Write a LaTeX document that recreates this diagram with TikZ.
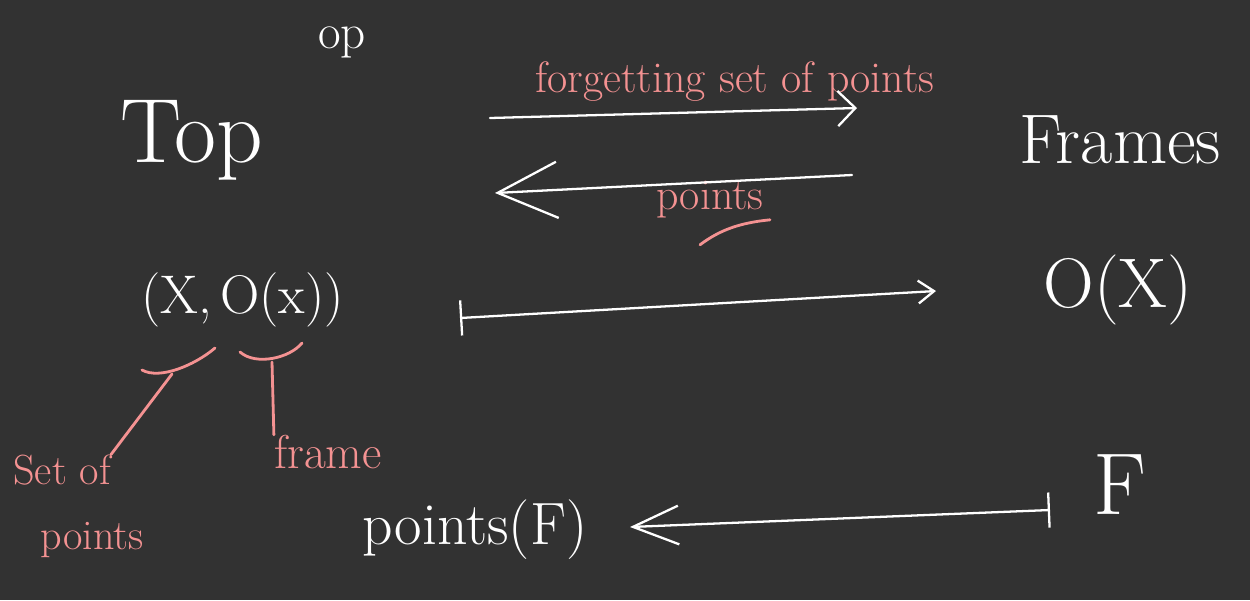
\documentclass[tikz,border=0pt]{standalone}
\usepackage{fontspec}
\usetikzlibrary{arrows.meta}
\definecolor{bg}{HTML}{323232}
\definecolor{chalkpink}{HTML}{F49292}
\tikzset{
  wtext/.style={text=white, inner sep=0pt},
  ptext/.style={text=chalkpink, inner sep=0pt},
  wline/.style={draw=white, line width=1.3pt, line cap=round},
  pline/.style={draw=chalkpink, line width=1.6pt, line cap=round},
  fs/.style={font=\fontsize{#1}{#1}\selectfont}
}
\begin{document}
\begin{tikzpicture}[x=0.02cm, y=-0.02cm]
\fill[bg] (0,0) rectangle (1250,600);
\useasboundingbox (0,0) rectangle (1250,600);

% white texts
\node[wtext, fs=52] (top) at (192,140) {Top};
\node[wtext, fs=28] (op) at (342,42) {op};
\node[wtext, fs=40] (frames) at (1120,140) {Frames};
\node[wtext, fs=31, anchor=east] (px) at (212,300) {(X,};
\node[wtext, fs=31, anchor=west] (pox) at (220,300) {O(x))};
\node[wtext, fs=40] (oX) at (1118,290) {O(X)};
\node[wtext, fs=50] (F) at (1120,485) {F};
\node[wtext, fs=34] (ptsF) at (475,530) {points(F)};

% pink labels
\node[ptext, fs=25] (forget) at (735,82) {forgetting set of points};
\node[ptext, fs=25] (ptslab) at (710,200) {points};
\node[ptext, fs=24] (setof) at (62,470) {Set of};
\node[ptext, fs=24] (setpts) at (92,540) {points};
\node[ptext, fs=27] (framelab) at (328,452) {frame};

% coordinates for connectors
\coordinate (f1) at (490,118);
\coordinate (f2) at (857,108);
\coordinate (g1) at (852,175);
\coordinate (g2) at (495,193);
\coordinate (m1) at (460,318);
\coordinate (m2) at (936,291);
\coordinate (n1) at (1050,510);
\coordinate (n2) at (630,527);

% arrows
\draw[wline, -{Straight Barb[length=10pt,width=20pt,line width=1.3pt]}] (f1) -- (f2);
\draw[wline, -{Straight Barb[length=34pt,width=32pt,line width=1.3pt]}] (g1) -- (g2);
\draw[wline, {Bar[width=20pt,line width=1.3pt]}-{Straight Barb[length=9pt,width=13pt,line width=1.3pt]}] (m1) -- (m2);
\draw[wline, {Bar[width=20pt,line width=1.3pt]}-{Straight Barb[length=26pt,width=22pt,line width=1.3pt]}] (n1) -- (n2);

% underline of "points"
\draw[pline] (ptslab.south) ++(-10,26) .. controls +(20,-15) and +(-30,3) .. ++(70,-25);

% braces
\coordinate (bx) at (172,374);
\coordinate (bo) at (272,362);
\draw[pline] (142,370) .. controls (160,380) and (195,365) .. (215,348);
\draw[pline] (240,352) .. controls (256,366) and (290,358) .. (302,343);
\draw[pline] (bx) -- (setof.north east);
\draw[pline] (bo) -- (framelab.north west);
\end{tikzpicture}
\end{document}
